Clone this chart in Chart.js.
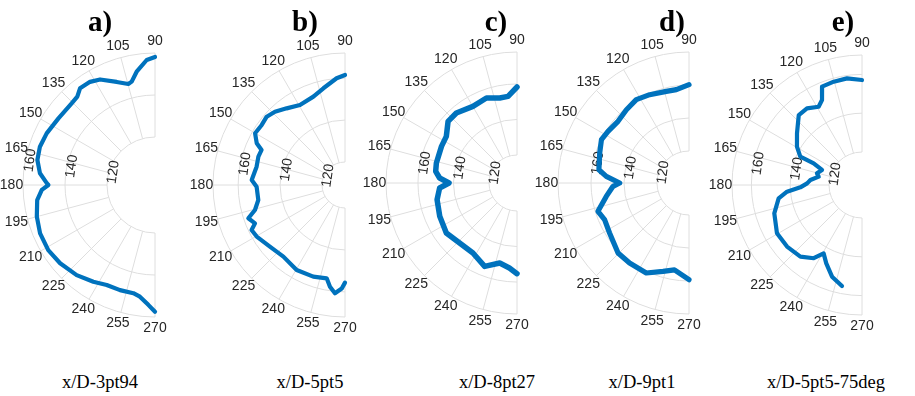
<!DOCTYPE html>
<html>
<head>
<meta charset="utf-8">
<script src="https://cdn.jsdelivr.net/npm/chart.js@4.4.0/dist/chart.umd.min.js"></script>
<style>
  body { margin:0; width:915px; height:396px; overflow:hidden; background:#fff; position:relative; }
  canvas.panel { position:absolute; }
  .tag { position:absolute; top:5px; width:60px; margin-left:-30px; text-align:center;
         font:bold 29px "Liberation Serif", "Times New Roman", serif; color:#000; line-height:32px; }
  .case { position:absolute; top:371px; width:200px; margin-left:-100px; text-align:center;
          font:18.5px "Liberation Serif", "Times New Roman", serif; color:#000; line-height:22px; }
</style>
</head>
<body>
<script>
// ----------- DATA ------------
const theta_ticks = [90, 105, 120, 135, 150, 165, 180, 195, 210, 225, 240, 255, 270];
const r_ticks = [120, 140, 160];
const panel_tags = ['a)', 'b)', 'c)', 'd)', 'e)'];
const case_names = ['x/D-3pt94', 'x/D-5pt5', 'x/D-8pt27', 'x/D-9pt1', 'x/D-5pt5-75deg'];

// a) x/D-3pt94
const theta_a = [90, 93.8, 99.2, 102.7, 104.8, 110.4, 117.5, 122.2, 127.8, 131.3, 135.6, 145.4, 154.5, 161.6, 168, 174.2, 179, 180, 182.5, 187.3, 195, 202.8, 211.4, 219.5, 229, 237.5, 244.2, 251.6, 258.7, 262.3, 266.8, 270];
const r_a = [158.1, 156.8, 151.8, 147.6, 146.9, 149.5, 153.8, 155.2, 155.4, 153.2, 152.7, 153, 154.3, 154.9, 154.4, 152.2, 148.7, 147.9, 151.1, 153.7, 155.4, 156.5, 156.7, 155.7, 154, 151.8, 150, 149.9, 149.7, 150.8, 154.3, 157.5];

// b) x/D-5pt5
const theta_b = [90, 94.5, 102.6, 109.7, 119.4, 127.3, 133.7, 138.9, 144.2, 150.1, 154.7, 157.2, 161.9, 168.3, 176.9, 181.1, 189.8, 195.5, 199, 203.1, 205.7, 210.3, 219.4, 229.3, 240.4, 250.9, 258.9, 261.6, 264.7, 268.2, 270];
const r_b = [161.5, 160.1, 156.3, 153.8, 152.8, 155, 157.4, 158.6, 158, 158.5, 155.6, 152.2, 152.5, 152.1, 153.6, 151.2, 151, 153.6, 157.8, 155.7, 158.5, 157.8, 155.4, 154.1, 155.7, 155.3, 154.4, 158.1, 160.9, 158.4, 155.6];

// c) x/D-8pt27
const theta_c = [90, 95.9, 101.5, 109.8, 119.9, 130.9, 138.2, 146.6, 154.1, 166.1, 171.8, 176.3, 180, 183.7, 191.8, 203.3, 215.3, 226.3, 237.8, 248.8, 257.8, 264.9, 270];
const r_c = [158.3, 153.3, 153.1, 155.1, 154, 156.4, 156.3, 151.9, 151.5, 151, 150.5, 147.9, 142.5, 147.9, 150.2, 151.6, 153, 151, 150.8, 154.6, 150.3, 152.3, 155.3];

// d) x/D-9pt1
const theta_d = [90, 97.7, 103.9, 114, 122.3, 130.5, 139, 147.5, 153.7, 161.4, 171.6, 175.4, 180, 182.5, 189.2, 197.3, 203.5, 212.2, 224.6, 233.4, 244.6, 253.6, 260.5, 270];
const r_d = [160.2, 157.7, 157.8, 159.2, 160.4, 159, 157.6, 158.8, 159.8, 157.7, 155.8, 150.9, 142.6, 146.7, 151.4, 158.4, 156.4, 157.5, 161, 161, 161, 156.4, 154, 159.2];

// e) x/D-5pt5-75deg
const theta_e = [90, 98, 105.3, 112.1, 115.2, 119, 125.7, 132.1, 141.5, 149.5, 155.3, 155.8, 159.4, 165.5, 169.1, 174.5, 178.3, 182.2, 185.1, 189.1, 197.9, 209.6, 219.4, 229.3, 236.6, 240.7, 245.5, 251.9, 258.8];
const r_e = [157.1, 158.5, 158.2, 157.7, 151.4, 149.1, 151.6, 151.6, 145.8, 141.9, 138, 130.3, 125, 127, 125.7, 129.7, 131.3, 134.8, 141.8, 146.5, 150.5, 153.4, 153, 151.7, 148.2, 143.4, 147.4, 152.7, 156.1];

const all_theta = [theta_a, theta_b, theta_c, theta_d, theta_e];
const all_r = [r_a, r_b, r_c, r_d, r_e];

// ----------- LAYOUT ------------
// centre of each half disc on the page, outer radius, inner hole radius, r limits
const layout = [
  { cx:155, cy:185, R:132, hole:48, rMin:120, rMax:160, tagX:100, caseX:100, lw:4.2 },
  { cx:345, cy:185, R:132, hole:23, rMin:120, rMax:172, tagX:305, caseX:310, lw:4.2 },
  { cx:517, cy:183, R:131, hole:28, rMin:120, rMax:178, tagX:496, caseX:497, lw:5.5 },
  { cx:689, cy:183, R:131, hole:32, rMin:120, rMax:180, tagX:672, caseX:642, lw:5.2 },
  { cx:862, cy:185, R:130, hole:33, rMin:120, rMax:170, tagX:843, caseX:826, lw:4.2 }
];
const CW = 200, CH = 330, OX = 175, OY = 160;   // canvas size and centre offset
const GRID = '#dedede', TXT = '#262626', LINE = '#0072bd';
const FONT = '14px "Liberation Sans", Arial, sans-serif';

// ----------- HELPER FUNCTION -----------
function r_to_rho(r, L){
  return L.hole + (r - L.rMin) * (L.R - L.hole) / (L.rMax - L.rMin);
}

function make_grid_plugin(L, idx){
  return {
    id: 'polarGrid' + idx,
    beforeDatasetsDraw(chart){
      const ctx = chart.ctx;
      const xs = chart.scales.x, ys = chart.scales.y;
      const cx = xs.getPixelForValue(0), cy = ys.getPixelForValue(0);
      const px = v => xs.getPixelForValue(v) - cx;   // data units -> pixels
      const R = px(L.R), hole = px(L.hole);
      ctx.save();
      ctx.strokeStyle = GRID;
      ctx.lineWidth = 1;

      // rings
      const rings = [L.rMin];
      r_ticks.forEach(t => { if (t > L.rMin && t < L.rMax) rings.push(t); });
      rings.push(L.rMax);
      rings.forEach(r => {
        ctx.beginPath();
        ctx.arc(cx, cy, px(r_to_rho(r, L)), Math.PI / 2, Math.PI * 3 / 2);
        ctx.stroke();
      });

      // spokes
      theta_ticks.forEach(t => {
        const a = t * Math.PI / 180;
        ctx.beginPath();
        ctx.moveTo(cx + hole * Math.cos(a), cy - hole * Math.sin(a));
        ctx.lineTo(cx + R * Math.cos(a), cy - R * Math.sin(a));
        ctx.stroke();
      });

      // angle labels
      ctx.fillStyle = TXT;
      ctx.font = FONT;
      ctx.textAlign = 'center';
      ctx.textBaseline = 'middle';
      theta_ticks.forEach(t => {
        const a = t * Math.PI / 180;
        const d = R + 11.5;
        ctx.fillText(String(t), cx + d * Math.cos(a), cy - d * Math.sin(a));
      });

      // radial labels, along a line near 172 deg, written tangentially
      const a0 = 172 * Math.PI / 180;
      r_ticks.forEach(t => {
        if (t > L.rMax) return;
        const rho = px(r_to_rho(t, L)) - 5;
        const x = rho * Math.cos(a0) + 7 * Math.sin(a0);
        const y = rho * Math.sin(a0) - 7 * Math.cos(a0);
        ctx.save();
        ctx.translate(cx + x, cy - y);
        ctx.rotate(-(172 - 90) * Math.PI / 180);
        ctx.fillText(String(t), 0, 0);
        ctx.restore();
      });
      ctx.restore();
    }
  };
}

// ----------- INITIALIZATION ------------
function make_panel(i){
  const L = layout[i];
  const canvas = document.createElement('canvas');
  canvas.className = 'panel';
  canvas.width = CW;
  canvas.height = CH;
  canvas.style.left = (L.cx - OX) + 'px';
  canvas.style.top = (L.cy - OY) + 'px';
  document.body.appendChild(canvas);

  const pts = all_theta[i].map((t, k) => {
    const rho = r_to_rho(all_r[i][k], L);
    const a = t * Math.PI / 180;
    return { x: rho * Math.cos(a), y: rho * Math.sin(a) };
  });

  new Chart(canvas, {
    type: 'scatter',
    data: {
      datasets: [{
        data: pts,
        showLine: true,
        borderColor: LINE,
        backgroundColor: LINE,
        borderWidth: L.lw,
        borderJoinStyle: 'round',
        borderCapStyle: 'round',
        pointRadius: 0,
        tension: 0
      }]
    },
    options: {
      responsive: false,
      animation: false,
      events: [],
      layout: { padding: 0 },
      plugins: { legend: { display: false }, tooltip: { enabled: false } },
      scales: {
        x: { type: 'linear', display: false, min: -OX, max: CW - OX },
        y: { type: 'linear', display: false, min: -(CH - OY), max: OY }
      }
    },
    plugins: [make_grid_plugin(L, i)]
  });

  const tag = document.createElement('div');
  tag.className = 'tag';
  tag.style.left = L.tagX + 'px';
  tag.textContent = panel_tags[i];
  document.body.appendChild(tag);

  const cs = document.createElement('div');
  cs.className = 'case';
  cs.style.left = L.caseX + 'px';
  cs.textContent = case_names[i];
  document.body.appendChild(cs);
}

// ----------- MAIN FUNCTION ------------
function main(){
  for (let i = 0; i < layout.length; i++) make_panel(i);
}

main();
</script>
</body>
</html>
